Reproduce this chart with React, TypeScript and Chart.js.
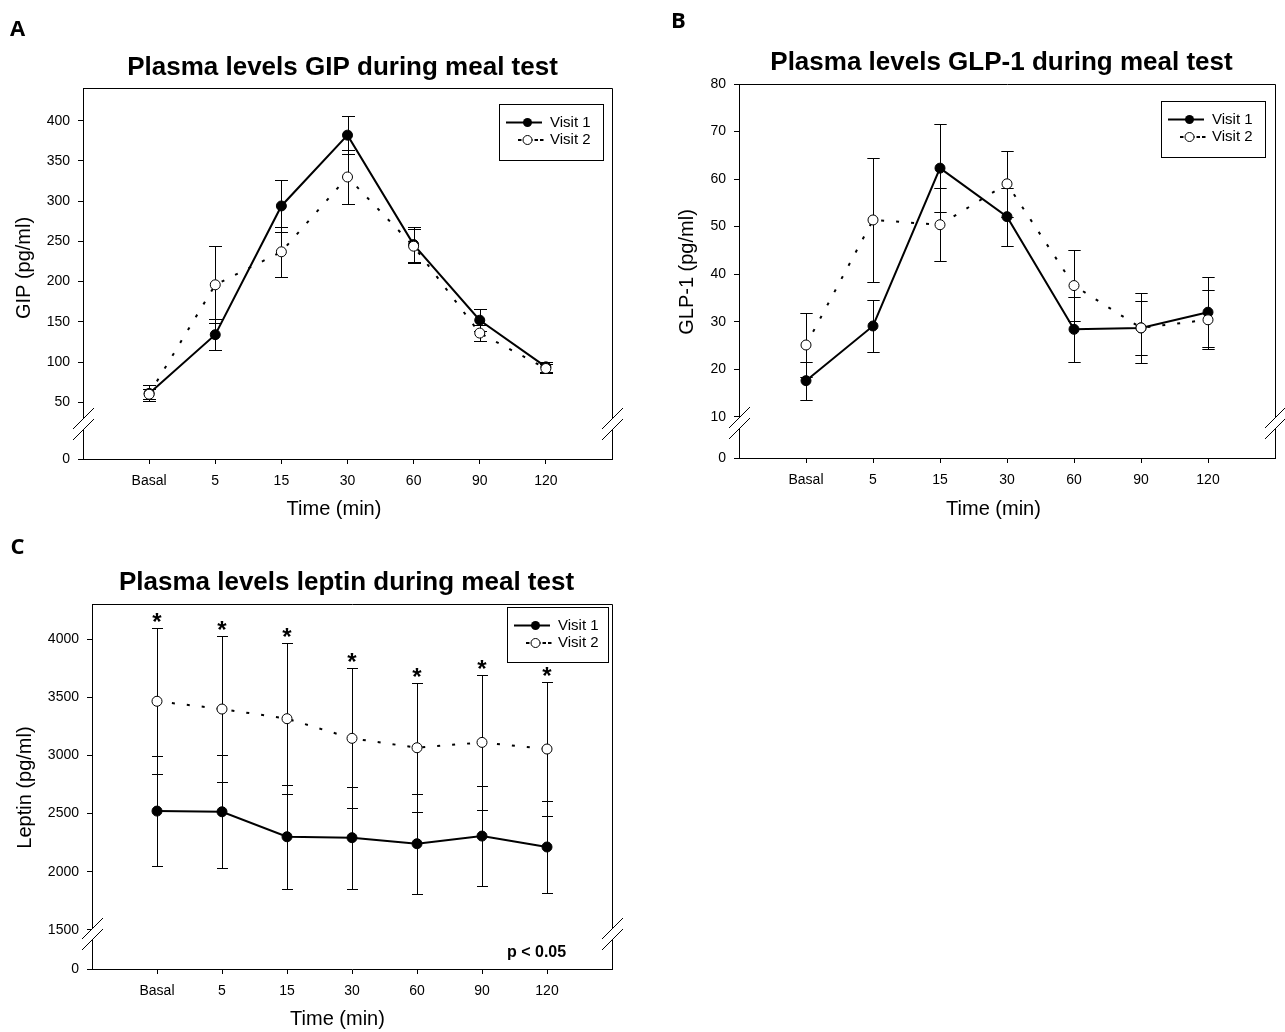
import React, { useEffect, useRef } from 'react';
import { Chart, registerables } from 'chart.js';

Chart.register(...registerables);

const FONT = "'Liberation Sans', Arial, Helvetica, sans-serif";
const LETTER_FONT = "'Open Sans', 'Noto Sans', sans-serif";

// ---------- data ----------
const timeLabels = ['Basal', '5', '15', '30', '60', '90', '120'];
const seriesNames = ['Visit 1', 'Visit 2'];

const gipVisit1 = [61, 134, 294, 382, 246, 152, 94];
const gipVisit1Err = [10, 19, 32, 24, 22, 14, 6];
const gipVisit2 = [60, 196, 237, 330, 244, 136, 92];
const gipVisit2Err = [6, 48, 31, 33, 21, 10, 5];
const gipTicks = [50, 100, 150, 200, 250, 300, 350, 400];

const glpVisit1 = [17.6, 29.1, 62.3, 52.1, 28.4, 28.7, 32.0];
const glpVisit1Err = [4, 5.4, 9.3, 6.1, 6.8, 7.4, 7.4];
const glpVisit2 = [25.1, 51.4, 50.4, 59.0, 37.6, 28.7, 30.4];
const glpVisit2Err = [6.7, 13, 7.7, 7, 7.5, 5.7, 6.2];
const glpTicks = [10, 20, 30, 40, 50, 60, 70, 80];

const leptinVisit1 = [2522, 2516, 2301, 2293, 2241, 2307, 2213];
const leptinVisit1Err = [475, 487, 447, 440, 432, 433, 398];
const leptinVisit2 = [3467, 3400, 3317, 3148, 3067, 3113, 3056];
const leptinVisit2Err = [628, 631, 648, 602, 557, 582, 574];
const leptinTicks = [1500, 2000, 2500, 3000, 3500, 4000];
const leptinSignificant = [true, true, true, true, true, true, true];

// ---------- layout ----------
const W = 1285;
const H = 1032;
const Y_W = 60;
const X_H = 30;

type PanelSpec = {
  area: { left: number; top: number; right: number; bottom: number };
  yMin: number;
  yMax: number;
  yTicks: number[];
  v1: number[];
  v1err: number[];
  v2: number[];
  v2err: number[];
  title: string;
  titlePos: [number, number];
  yTitle: string;
  yTitlePos: [number, number];
  xTitlePos: [number, number];
  legend: { x: number; y: number; w: number; h: number };
  letter: string;
  letterPos: [number, number];
  capHalf: number;
  stars?: boolean[];
  note?: { text: string; x: number; y: number };
};

const panels: PanelSpec[] = [
  {
    area: { left: 83, top: 88, right: 612, bottom: 459 },
    yMin: -20.5,
    yMax: 440.6,
    yTicks: gipTicks,
    v1: gipVisit1,
    v1err: gipVisit1Err,
    v2: gipVisit2,
    v2err: gipVisit2Err,
    title: 'Plasma levels GIP during meal test',
    titlePos: [342.5, 75],
    yTitle: 'GIP (pg/ml)',
    yTitlePos: [24, 268],
    xTitlePos: [334, 509],
    legend: { x: 499, y: 104, w: 104, h: 56 },
    letter: 'A',
    letterPos: [17.5, 29.5],
    capHalf: 6.5,
  },
  {
    area: { left: 739, top: 84, right: 1275, bottom: 458 },
    yMin: 1.33,
    yMax: 80,
    yTicks: glpTicks,
    v1: glpVisit1,
    v1err: glpVisit1Err,
    v2: glpVisit2,
    v2err: glpVisit2Err,
    title: 'Plasma levels GLP-1 during meal test',
    titlePos: [1001.5, 70],
    yTitle: 'GLP-1 (pg/ml)',
    yTitlePos: [687, 272],
    xTitlePos: [993.5, 509],
    legend: { x: 1161, y: 101, w: 104, h: 56 },
    letter: 'B',
    letterPos: [678.5, 21.5],
    capHalf: 6.2,
  },
  {
    area: { left: 92, top: 604, right: 612, bottom: 969 },
    yMin: 1163,
    yMax: 4304,
    yTicks: leptinTicks,
    v1: leptinVisit1,
    v1err: leptinVisit1Err,
    v2: leptinVisit2,
    v2err: leptinVisit2Err,
    title: 'Plasma levels leptin during meal test',
    titlePos: [346.5, 590],
    yTitle: 'Leptin (pg/ml)',
    yTitlePos: [25, 787.5],
    xTitlePos: [337.5, 1019.5],
    legend: { x: 507, y: 607, w: 101, h: 55 },
    letter: 'C',
    letterPos: [17.5, 548],
    capHalf: 5.5,
    stars: leptinSignificant,
    note: { text: 'p < 0.05', x: 507, y: 953 },
  },
];

function makeOverlay(p: PanelSpec) {
  return {
    id: 'overlay',
    beforeDatasetsDraw(chart: any) {
      const ctx: CanvasRenderingContext2D = chart.ctx;
      const xs = chart.scales.x;
      const ys = chart.scales.y;
      ctx.save();
      ctx.strokeStyle = '#000';
      ctx.lineWidth = 1;
      const drawErr = (vals: number[], errs: number[]) => {
        vals.forEach((v, i) => {
          const x = Math.round(xs.getPixelForValue(i)) + 0.5;
          const yt = Math.round(ys.getPixelForValue(v + errs[i])) + 0.5;
          const yb = Math.round(ys.getPixelForValue(v - errs[i])) + 0.5;
          ctx.beginPath();
          ctx.moveTo(x, yt);
          ctx.lineTo(x, yb);
          ctx.moveTo(x - p.capHalf, yt);
          ctx.lineTo(x + p.capHalf, yt);
          ctx.moveTo(x - p.capHalf, yb);
          ctx.lineTo(x + p.capHalf, yb);
          ctx.stroke();
        });
      };
      drawErr(p.v1, p.v1err);
      drawErr(p.v2, p.v2err);
      ctx.restore();
    },
    afterDraw(chart: any) {
      const ctx: CanvasRenderingContext2D = chart.ctx;
      const ca = chart.chartArea;
      const xs = chart.scales.x;
      const ys = chart.scales.y;
      ctx.save();
      ctx.strokeStyle = '#000';
      ctx.lineWidth = 1;
      // frame top & right
      const top = Math.round(ca.top) + 0.5;
      const right = Math.round(ca.right) + 0.5;
      const left = Math.round(ca.left) + 0.5;
      const bottom = Math.round(ca.bottom) + 0.5;
      ctx.beginPath();
      ctx.moveTo(left, top);
      ctx.lineTo(right, top);
      ctx.lineTo(right, bottom);
      ctx.stroke();

      // axis breaks
      const drawBreak = (cx: number) => {
        const cy = ca.bottom - 35;
        const d = 10.5;
        const g = 5.5;
        ctx.fillStyle = '#fff';
        ctx.beginPath();
        ctx.moveTo(cx - d, cy - g + d);
        ctx.lineTo(cx + d, cy - g - d);
        ctx.lineTo(cx + d, cy + g - d);
        ctx.lineTo(cx - d, cy + g + d);
        ctx.closePath();
        ctx.fill();
        ctx.beginPath();
        ctx.moveTo(cx - d, cy - g + d);
        ctx.lineTo(cx + d, cy - g - d);
        ctx.moveTo(cx - d, cy + g + d);
        ctx.lineTo(cx + d, cy + g - d);
        ctx.stroke();
      };
      drawBreak(left);
      drawBreak(right);

      // legend
      const L = p.legend;
      ctx.fillStyle = '#fff';
      ctx.fillRect(L.x, L.y, L.w, L.h);
      ctx.strokeRect(L.x + 0.5, L.y + 0.5, L.w, L.h);
      const r1 = L.y + 18.5;
      const r2 = L.y + 36;
      ctx.lineWidth = 2;
      ctx.beginPath();
      ctx.moveTo(L.x + 7, r1);
      ctx.lineTo(L.x + 43, r1);
      ctx.stroke();
      ctx.fillStyle = '#000';
      ctx.beginPath();
      ctx.arc(L.x + 28.5, r1, 4.5, 0, Math.PI * 2);
      ctx.fill();
      ctx.setLineDash([3.5, 2]);
      ctx.beginPath();
      ctx.moveTo(L.x + 19, r2);
      ctx.lineTo(L.x + 44.5, r2);
      ctx.stroke();
      ctx.setLineDash([]);
      ctx.lineWidth = 1;
      ctx.fillStyle = '#fff';
      ctx.beginPath();
      ctx.arc(L.x + 28.5, r2, 4.5, 0, Math.PI * 2);
      ctx.fill();
      ctx.stroke();
      ctx.fillStyle = '#000';
      ctx.font = `15px ${FONT}`;
      ctx.textAlign = 'left';
      ctx.textBaseline = 'middle';
      ctx.fillText(seriesNames[0], L.x + 51, r1);
      ctx.fillText(seriesNames[1], L.x + 51, r2);

      // significance stars
      if (p.stars) {
        ctx.font = `bold 24px ${FONT}`;
        ctx.textAlign = 'center';
        ctx.textBaseline = 'alphabetic';
        p.stars.forEach((s, i) => {
          if (!s) return;
          const x = xs.getPixelForValue(i);
          const yc = ys.getPixelForValue(p.v2[i] + p.v2err[i]);
          ctx.fillText('*', x, yc + 2);
        });
      }
      if (p.note) {
        ctx.font = `bold 16px ${FONT}`;
        ctx.textAlign = 'left';
        ctx.textBaseline = 'middle';
        ctx.fillText(p.note.text, p.note.x, p.note.y);
      }

      // titles
      ctx.font = `bold 26px ${FONT}`;
      ctx.textAlign = 'center';
      ctx.textBaseline = 'alphabetic';
      ctx.fillText(p.title, p.titlePos[0], p.titlePos[1]);

      ctx.font = `20px ${FONT}`;
      ctx.textBaseline = 'middle';
      ctx.fillText('Time (min)', p.xTitlePos[0], p.xTitlePos[1]);
      ctx.save();
      ctx.translate(p.yTitlePos[0], p.yTitlePos[1]);
      ctx.rotate(-Math.PI / 2);
      ctx.fillText(p.yTitle, 0, 0);
      ctx.restore();

      ctx.font = `bold 22px ${LETTER_FONT}`;
      ctx.textAlign = 'center';
      ctx.textBaseline = 'middle';
      ctx.fillText(p.letter, p.letterPos[0], p.letterPos[1]);
      ctx.restore();
    },
  };
}

function buildConfig(p: PanelSpec): any {
  const a = p.area;
  const yTickValues = [p.yMin, ...p.yTicks];
  return {
    type: 'line',
    data: {
      datasets: [
        {
          label: seriesNames[1],
          data: p.v2.map((y, i) => ({ x: i, y })),
          borderColor: '#000',
          borderWidth: 2,
          borderDash: [3, 12],
          borderCapStyle: 'butt',
          pointRadius: 5,
          pointBackgroundColor: '#fff',
          pointBorderColor: '#000',
          pointBorderWidth: 1,
          tension: 0,
          order: 0,
          clip: false,
        },
        {
          label: seriesNames[0],
          data: p.v1.map((y, i) => ({ x: i, y })),
          borderColor: '#000',
          borderWidth: 2,
          pointRadius: 5,
          pointBackgroundColor: '#000',
          pointBorderColor: '#000',
          pointBorderWidth: 1,
          tension: 0,
          order: 1,
          clip: false,
        },
      ],
    },
    options: {
      responsive: false,
      animation: false,
      devicePixelRatio: 1,
      events: [],
      layout: {
        padding: {
          left: a.left - Y_W,
          top: a.top,
          right: W - a.right,
          bottom: H - a.bottom - X_H,
        },
      },
      plugins: {
        legend: { display: false },
        title: { display: false },
        tooltip: { enabled: false },
      },
      scales: {
        x: {
          type: 'linear',
          min: -1,
          max: timeLabels.length,
          afterBuildTicks: (ax: any) => {
            ax.ticks = timeLabels.map((_, i) => ({ value: i }));
          },
          afterFit: (ax: any) => {
            ax.height = X_H;
          },
          ticks: {
            autoSkip: false,
            maxRotation: 0,
            padding: 9,
            color: '#000',
            font: { family: FONT, size: 14 },
            callback: (_v: any, i: number) => timeLabels[i] ?? '',
          },
          grid: {
            drawOnChartArea: false,
            drawTicks: true,
            tickLength: 5,
            color: '#000',
            tickColor: '#000',
            lineWidth: 1,
          },
          border: { display: true, color: '#000', width: 1 },
        },
        y: {
          type: 'linear',
          min: p.yMin,
          max: p.yMax,
          afterBuildTicks: (ax: any) => {
            ax.ticks = yTickValues.map((v) => ({ value: v }));
          },
          afterFit: (ax: any) => {
            ax.width = Y_W;
          },
          ticks: {
            autoSkip: false,
            padding: 8,
            color: '#000',
            font: { family: FONT, size: 14 },
            callback: (_v: any, i: number) => (i === 0 ? '0' : String(p.yTicks[i - 1])),
          },
          grid: {
            drawOnChartArea: false,
            drawTicks: true,
            tickLength: 5,
            color: '#000',
            tickColor: '#000',
            lineWidth: 1,
          },
          border: { display: true, color: '#000', width: 1 },
        },
      },
    },
    plugins: [makeOverlay(p)],
  };
}

function Panel({ spec }: { spec: PanelSpec }) {
  const ref = useRef<HTMLCanvasElement>(null);
  useEffect(() => {
    if (!ref.current) return;
    const chart = new Chart(ref.current, buildConfig(spec));
    return () => chart.destroy();
  }, [spec]);
  return (
    <canvas
      ref={ref}
      width={W}
      height={H}
      style={{ position: 'absolute', left: 0, top: 0, width: W, height: H }}
    />
  );
}

export default function App() {
  return (
    <div
      style={{
        position: 'absolute',
        left: 0,
        top: 0,
        width: W,
        height: H,
        background: '#fff',
        overflow: 'hidden',
      }}
    >
      {panels.map((p, i) => (
        <Panel key={i} spec={p} />
      ))}
    </div>
  );
}
